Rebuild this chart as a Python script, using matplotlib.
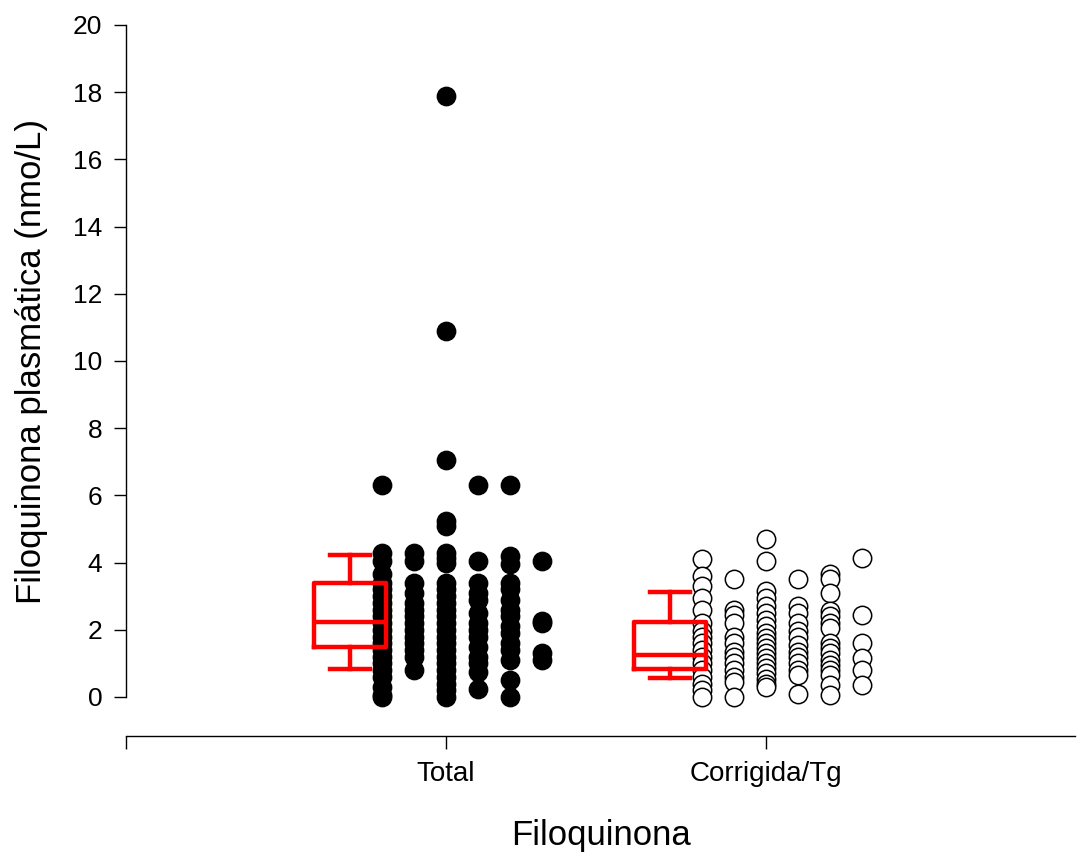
import matplotlib
matplotlib.use("Agg")
import matplotlib.pyplot as plt

plt.rcParams['font.family'] = ['Liberation Sans', 'DejaVu Sans']

# Categorias do eixo x
categorias = ['Total', 'Corrigida/Tg']

# Filoquinona total (nmol/L), por coluna de pontos
total_cols = [
    [6.3, 4.3, 4.05, 3.65, 3.4, 3.2, 3.0, 2.8, 2.6, 2.4, 2.2, 2.0, 1.8, 1.6,
     1.4, 1.2, 1.0, 0.8, 0.6, 0.3, 0.05, 0.0],
    [4.3, 4.05, 3.4, 3.1, 2.8, 2.6, 2.4, 2.2, 2.0, 1.8, 1.6, 1.4, 1.2, 0.8],
    [17.9, 10.9, 7.05, 5.25, 5.1, 4.3, 4.15, 4.0, 3.4, 3.2, 3.0, 2.8, 2.6, 2.4,
     2.2, 2.0, 1.8, 1.6, 1.4, 1.2, 1.0, 0.8, 0.6, 0.4, 0.2, 0.0],
    [6.3, 4.05, 3.4, 3.1, 2.9, 2.5, 2.2, 2.0, 1.8, 1.5, 1.2, 1.0, 0.75, 0.25],
    [6.3, 4.2, 3.95, 3.4, 3.2, 2.9, 2.6, 2.4, 2.1, 1.9, 1.6, 1.4, 1.1, 0.5, 0.0],
    [4.05, 2.25, 2.2, 1.3, 1.1],
]

# Filoquinona corrigida por triglicerideos, por coluna de pontos
corrigida_cols = [
    [4.1, 3.6, 3.3, 2.95, 2.6, 2.2, 1.95, 1.8, 1.6, 1.4, 1.2, 1.0, 0.8, 0.6,
     0.4, 0.2, 0.0],
    [3.5, 2.6, 2.45, 2.2, 1.8, 1.6, 1.35, 1.2, 1.0, 0.8, 0.6, 0.45, 0.0],
    [4.7, 4.05, 3.15, 2.95, 2.7, 2.5, 2.3, 2.1, 1.9, 1.75, 1.6, 1.45, 1.3,
     1.15, 1.0, 0.85, 0.7, 0.55, 0.4, 0.3],
    [3.5, 2.7, 2.5, 2.2, 1.95, 1.8, 1.55, 1.35, 1.2, 1.0, 0.8, 0.65, 0.1],
    [3.65, 3.5, 3.1, 2.55, 2.4, 2.2, 2.05, 1.6, 1.45, 1.3, 1.1, 0.95, 0.8,
     0.65, 0.35, 0.05],
    [4.15, 2.45, 1.6, 1.15, 0.8, 0.35],
]

# Estatisticas dos box plots (whisker inf, Q1, mediana, Q3, whisker sup)
box_whislo = [0.84, 0.56]
box_q1 = [1.48, 0.82]
box_med = [2.22, 1.25]
box_q3 = [3.38, 2.24]
box_whishi = [4.22, 3.12]

W, H = 1079, 857
fig = plt.figure(figsize=(W / 100, H / 100), dpi=100)
ax = fig.add_axes([126 / W, (H - 736) / H, 949 / W, (736 - 25) / H])

offsets = [-0.2, -0.1, 0.0, 0.1, 0.2, 0.3]
for i, cols in enumerate([total_cols, corrigida_cols]):
    for off, vals in zip(offsets, cols):
        xs = [i + 1 + off] * len(vals)
        if i == 0:
            ax.scatter(xs, vals, s=175, color='black', zorder=2, clip_on=False)
        else:
            ax.scatter(xs, vals, s=175, facecolor='white', edgecolor='black',
                       linewidth=1.1, zorder=2, clip_on=False)

stats = []
for k in range(2):
    stats.append(dict(whislo=box_whislo[k], q1=box_q1[k], med=box_med[k],
                      q3=box_q3[k], whishi=box_whishi[k], fliers=[]))
red = dict(color='#ff0000', linewidth=3.2)
ax.bxp(stats, positions=[0.7, 1.7], widths=0.222, showfliers=False,
       boxprops=red, medianprops=red, whiskerprops=red,
       capprops=red, capwidths=0.128, manage_ticks=False, zorder=3)

ax.set_xlim(0, 949 / 320)
ax.set_ylim((697 - 736) / 33.6, 20)
ax.spines['top'].set_visible(False)
ax.spines['right'].set_visible(False)
ax.spines['left'].set_bounds(0, 20)
for sp in ['left', 'bottom']:
    ax.spines[sp].set_linewidth(1.0)

ax.set_yticks(range(0, 21, 2))
ax.set_xticks([0, 1, 2])
ax.set_xticklabels(['', categorias[0], categorias[1]])
ax.tick_params(axis='y', direction='out', length=9, width=1, labelsize=19, pad=8)
ax.tick_params(axis='x', direction='out', length=9, width=1, labelsize=20, pad=9)

# rotulos dos eixos
fig.text(32 / W, 1 - 362 / H, 'Filoquinona plasmática (nmo/L)', fontsize=25,
         rotation=90, ha='center', va='center')
fig.text(601 / W, 1 - 836 / H, 'Filoquinona', fontsize=25,
         ha='center', va='center')

fig.savefig('out.png', dpi=100)
